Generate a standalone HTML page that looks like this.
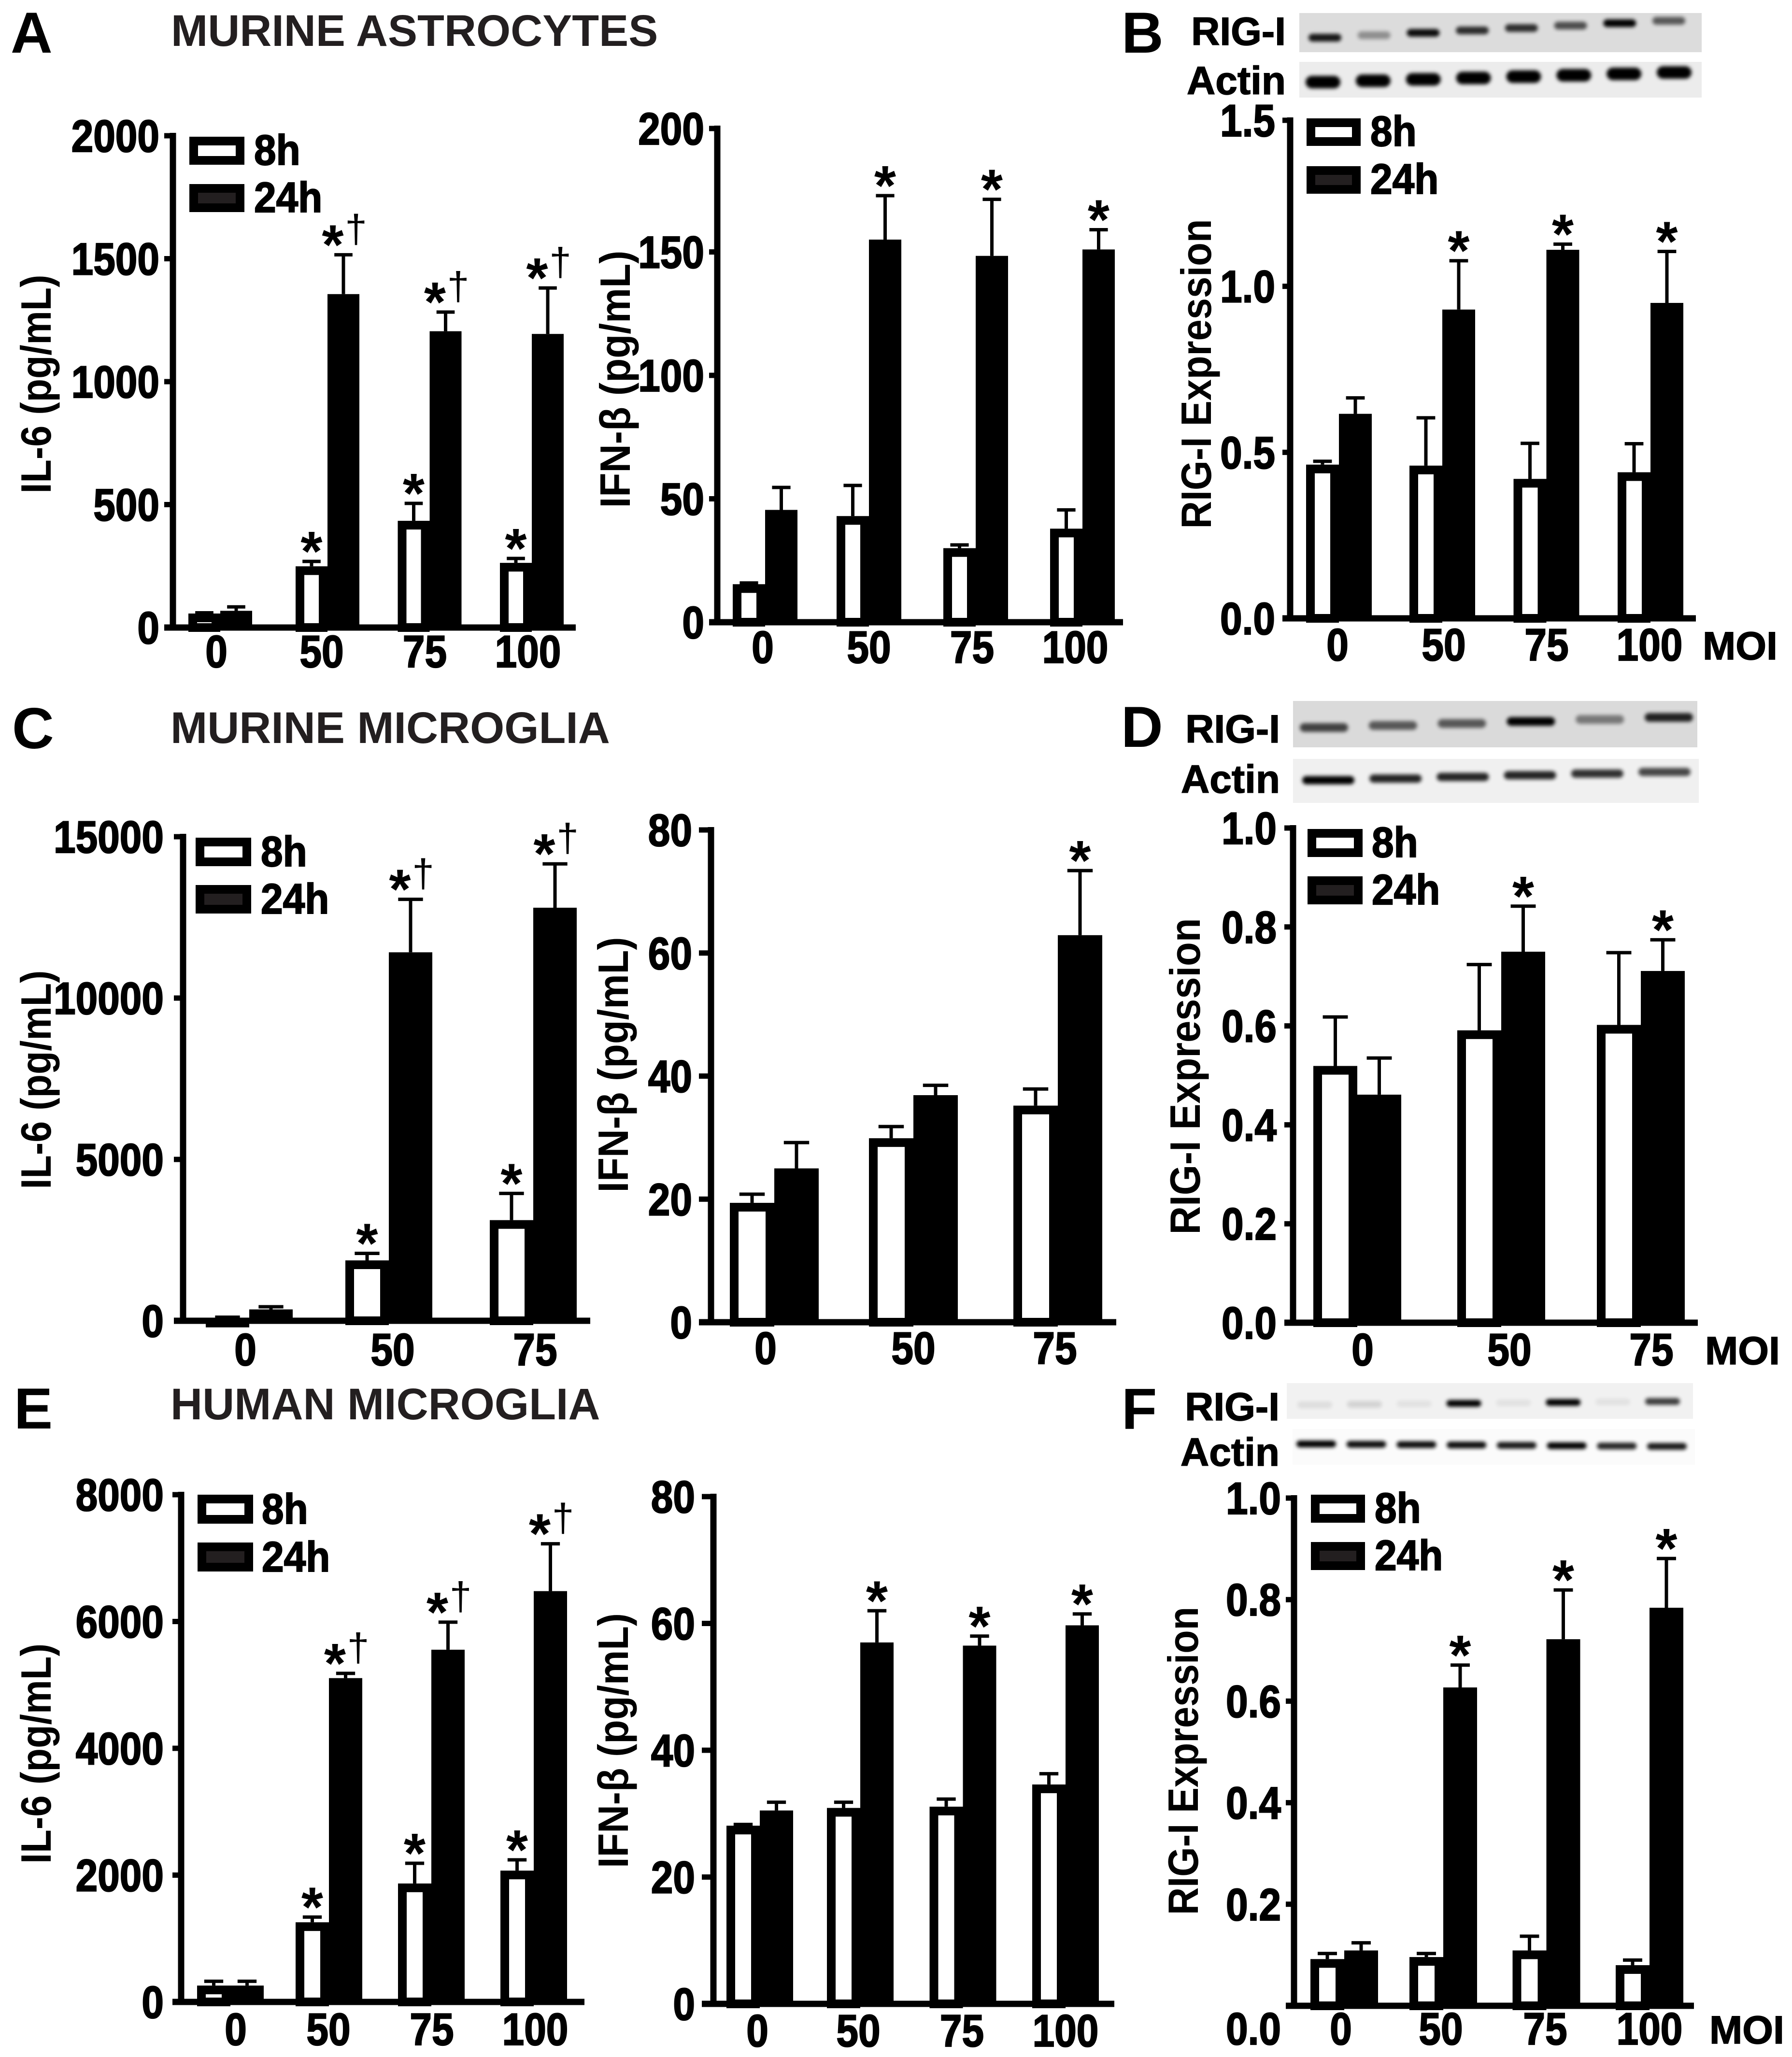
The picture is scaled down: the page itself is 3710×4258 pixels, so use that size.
<!DOCTYPE html>
<html lang="en">
<head>
<meta charset="utf-8">
<title>RIG-I and cytokine expression in glial cells</title>
<style>
html,body{margin:0;padding:0;background:#fff;}
svg{display:block;}
text{font-family:"Liberation Sans",Arial,sans-serif;font-weight:bold;fill:#000;}
.title{font-size:91.5px;fill:#231f20;}
.letter{font-size:120px;}
.blotlabel{font-size:82px;stroke:#000;stroke-width:1.5px;}
</style>
</head>
<body>
<svg id="figure" xmlns="http://www.w3.org/2000/svg" width="3710" height="4258" viewBox="0 0 3710 4258">
<defs>
<filter id="band-blur" x="-50%" y="-150%" width="200%" height="400%"><feGaussianBlur stdDeviation="4"/></filter>
</defs>
<rect x="0" y="0" width="3710" height="4258" fill="#fff"/>
<text class="letter" x="22" y="109">A</text>
<text class="title" x="354" y="95">MURINE ASTROCYTES</text>
<text class="letter" x="2322" y="109">B</text>
<text class="letter" x="25" y="1549">C</text>
<text class="title" x="353" y="1538">MURINE MICROGLIA</text>
<text class="letter" x="2321" y="1546">D</text>
<text class="letter" x="29" y="2957">E</text>
<text class="title" x="353" y="2938">HUMAN MICROGLIA</text>
<text class="letter" x="2322" y="2958">F</text>
<text class="blotlabel" x="2662" y="93" text-anchor="end">RIG-I</text>
<text class="blotlabel" x="2662" y="195" text-anchor="end">Actin</text>
<text class="blotlabel" x="2650" y="1537" text-anchor="end">RIG-I</text>
<text class="blotlabel" x="2650" y="1641" text-anchor="end">Actin</text>
<text class="blotlabel" x="2649" y="2940" text-anchor="end">RIG-I</text>
<text class="blotlabel" x="2649" y="3034" text-anchor="end">Actin</text>
<text class="blotlabel" x="3525" y="1365">MOI</text>
<text class="blotlabel" x="3530" y="2824">MOI</text>
<text class="blotlabel" x="3539" y="4230">MOI</text>
</svg>
<script>
// Category labels (MOI)
const catsFour = ['0', '50', '75', '100'];
const catsThree = ['0', '50', '75'];

// Panel A, IL-6
const ticksAIl6 = ['0', '500', '1000', '1500', '2000'];
const aIl6Early = [57, 249, 434, 263];
const aIl6EarlyTop = [60, 269, 505, 281];
const aIl6Late = [68, 1356, 1205, 1194];
const aIl6LateTop = [84, 1516, 1283, 1381];
const aIl6EarlyMarks = ['', '*', '*', '*'];
const aIl6LateMarks = ['', '*†', '*†', '*†'];

// Panel A, IFN-beta
const ticksAIfn = ['0', '50', '100', '150', '200'];
const aIfnEarly = [15.4, 43, 30, 37.9];
const aIfnEarlyTop = [15.9, 55.4, 31.3, 45.5];
const aIfnLate = [45.5, 155, 148.4, 151];
const aIfnLateTop = [54.6, 172.8, 171.3, 159];
const aIfnEarlyMarks = ['', '', '', ''];
const aIfnLateMarks = ['', '*', '*', '*'];

// Panel B, RIG-I
const ticksB = ['0.0', '0.5', '1.0', '1.5'];
const bEarly = [0.463, 0.46, 0.42, 0.44];
const bEarlyTop = [0.473, 0.604, 0.527, 0.526];
const bLate = [0.616, 0.93, 1.11, 0.95];
const bLateTop = [0.664, 1.077, 1.127, 1.105];
const bEarlyMarks = ['', '', '', ''];
const bLateMarks = ['', '*', '*', '*'];

// Panel C, IL-6
const ticksCIl6 = ['0', '5000', '10000', '15000'];
const cIl6Early = [80, 1871, 3119];
const cIl6EarlyTop = [110, 2088, 3946];
const cIl6Late = [352, 11418, 12800];
const cIl6LateTop = [434, 13060, 14158];
const cIl6EarlyMarks = ['', '*', '*'];
const cIl6LateMarks = ['', '*†', '*†'];

// Panel C, IFN-beta
const ticksCIfn = ['0', '20', '40', '60', '80'];
const cIfnEarly = [19.4, 29.9, 35.2];
const cIfnEarlyTop = [20.8, 31.8, 37.9];
const cIfnLate = [25, 36.9, 62.9];
const cIfnLateTop = [29.2, 38.5, 73.4];
const cIfnEarlyMarks = ['', '', ''];
const cIfnLateMarks = ['', '', '*'];

// Panel D, RIG-I
const ticksD = ['0.0', '0.2', '0.4', '0.6', '0.8', '1.0'];
const dEarly = [0.519, 0.591, 0.602];
const dEarlyTop = [0.618, 0.724, 0.748];
const dLate = [0.461, 0.75, 0.711];
const dLateTop = [0.535, 0.842, 0.774];
const dEarlyMarks = ['', '', ''];
const dLateMarks = ['', '*', '*'];

// Panel E, IL-6
const ticksEIl6 = ['0', '2000', '4000', '6000', '8000'];
const eIl6Early = [258, 1256, 1868, 2071];
const eIl6EarlyTop = [326, 1338, 2187, 2241];
const eIl6Late = [258, 5107, 5555, 6479];
const eIl6LateTop = [326, 5182, 5990, 7226];
const eIl6EarlyMarks = ['', '*', '*', '*'];
const eIl6LateMarks = ['', '*†', '*†', '*†'];

// Panel E, IFN-beta
const ticksEIfn = ['0', '20', '40', '60', '80'];
const eIfnEarly = [28.1, 30.9, 31.1, 34.6];
const eIfnEarlyTop = [28.3, 31.8, 32.3, 36.3];
const eIfnLate = [30.5, 57, 56.5, 59.7];
const eIfnLateTop = [31.8, 62, 58, 61.5];
const eIfnEarlyMarks = ['', '', '', ''];
const eIfnLateMarks = ['', '*', '*', '*'];

// Panel F, RIG-I
const ticksF = ['0.0', '0.2', '0.4', '0.6', '0.8', '1.0'];
const fEarly = [0.092, 0.096, 0.109, 0.08];
const fEarlyTop = [0.103, 0.103, 0.137, 0.09];
const fLate = [0.109, 0.627, 0.722, 0.784];
const fLateTop = [0.124, 0.671, 0.819, 0.881];
const fEarlyMarks = ['', '', '', ''];
const fLateMarks = ['', '*', '*', '*'];

// Western blot band densities (one per lane)
const blotBRig = [0.9, 0.35, 0.95, 0.8, 0.8, 0.65, 1, 0.6];
const blotBActin = [1, 1, 1, 1, 1, 1, 1, 1];
const blotDRig = [0.7, 0.6, 0.6, 1, 0.45, 0.85];
const blotDActin = [1, 0.85, 0.85, 0.85, 0.8, 0.7];
const blotFRig = [0.08, 0.12, 0.06, 1, 0.06, 1, 0.06, 0.75];
const blotFActin = [1, 0.95, 0.95, 0.95, 0.9, 1, 0.85, 0.9];

const SVG_NS = 'http://www.w3.org/2000/svg';
const figure = document.getElementById('figure');
const numStyle = 'font-size:82px;stroke:#000;stroke-width:2px';

function mk(parent, tag, attrs, name) {
  const el = document.createElementNS(SVG_NS, tag);
  for (const k in attrs) el.setAttribute(k, attrs[k]);
  
  
  parent.appendChild(el);
  return el;
}
function label(parent, attrs, str, name) {
  const el = mk(parent, 'text', attrs, name);
  el.textContent = str;
  return el;
}

function drawBars(g, p, values, tops, marks, offset, isEarly, seriesName) {
  const span = p.bottom - p.top;
  const maxV = parseFloat(p.ticks[p.ticks.length - 1]);
  const yOf = v => p.bottom - (v / maxV) * span;
  const centerOf = i => i === 0 ? p.c0 : p.c1 + p.step * (i - 1);
  const sw = 18;
  values.forEach((v, i) => {
    const c = centerOf(i);
    const bx = c + offset;
    const mid = bx + p.w / 2;
    const y = yOf(v);
    const capY = yOf(tops[i]);
    const capW = p.w * 0.57;
    mk(g, 'line', {x1: mid, x2: mid, y1: y, y2: capY, stroke: '#000', 'stroke-width': 7}, seriesName + '-error-stem-' + p.cats[i]);
    mk(g, 'line', {x1: mid - capW / 2, x2: mid + capW / 2, y1: capY, y2: capY, stroke: '#000', 'stroke-width': 7}, seriesName + '-error-cap-' + p.cats[i]);
    if (isEarly) {
      const h = Math.max(1, p.bottom - y - sw / 2);
      mk(g, 'rect', {x: bx + sw / 2, y: y + sw / 2, width: p.w - sw, height: h, fill: '#fff', stroke: '#000', 'stroke-width': sw}, seriesName + '-bar-' + p.cats[i]);
    } else {
      mk(g, 'rect', {x: bx, y: y, width: p.w, height: p.bottom - y, fill: '#000'}, seriesName + '-bar-' + p.cats[i]);
    }
    const mark = marks[i];
    if (mark) {
      const cy = capY - 48;
      const starStyle = 'font-size:116px';
      if (mark.length > 1) {
        label(g, {x: mid - 22, y: cy + 67, 'text-anchor': 'middle', style: starStyle}, mark[0], seriesName + '-significance-star-' + p.cats[i]);
        label(g, {x: mid + 26, y: cy + 22, 'text-anchor': 'middle', style: 'font-size:82px;font-weight:normal'}, mark[1], seriesName + '-significance-dagger-' + p.cats[i]);
      } else {
        label(g, {x: mid, y: cy + 67, 'text-anchor': 'middle', style: starStyle}, mark, seriesName + '-significance-star-' + p.cats[i]);
      }
    }
  });
  return yOf;
}

function drawPanel(p) {
  const g = mk(figure, 'g', {}, p.name);
  drawBars(g, p, p.early, p.earlyTop, p.earlyMarks, -p.w, true, 'series-8h');
  drawBars(g, p, p.late, p.lateTop, p.lateMarks, 0, false, 'series-24h');
  const maxV = parseFloat(p.ticks[p.ticks.length - 1]);
  const span = p.bottom - p.top;
  // axes
  mk(g, 'line', {x1: p.axisX, x2: p.axisX, y1: p.top - 6, y2: p.bottom + 6, stroke: '#000', 'stroke-width': 13}, 'y-axis-line');
  mk(g, 'line', {x1: p.xStart, x2: p.xEnd, y1: p.bottom, y2: p.bottom, stroke: '#000', 'stroke-width': 13}, 'x-axis-line');
  // y ticks
  p.ticks.forEach(t => {
    const y = p.bottom - (parseFloat(t) / maxV) * span;
    mk(g, 'line', {x1: p.xStart, x2: p.axisX, y1: y, y2: y, stroke: '#000', 'stroke-width': 11}, 'y-tick-' + t);
    const isZero = parseFloat(t) === 0;
    const ty = isZero && p.zeroLabelY ? p.zeroLabelY : y + 33;
    label(g, {transform: 'translate(' + p.tickRight + ' ' + ty + ') scale(1 1.14)', 'text-anchor': 'end', style: numStyle}, t, 'y-tick-label-' + t);
  });
  // x labels
  p.cats.forEach((c, i) => {
    const lx = i === 0 ? p.l0 : p.l1 + p.lStep * (i - 1);
    label(g, {transform: 'translate(' + lx + ' ' + (p.labelY + 4) + ') scale(1 1.14)', 'text-anchor': 'middle', style: numStyle}, c, 'x-tick-label-' + c);
  });
  // y title
  label(g, {
    x: 0, y: 0, 'text-anchor': 'middle',
    transform: 'translate(' + p.titleX + ' ' + p.titleY + ') rotate(-90)',
    textLength: p.titleLen, lengthAdjust: 'spacingAndGlyphs',
    style: 'font-size:88px'
  }, p.yTitle, 'y-axis-title');
  // legend
  if (p.legend) {
    const L = p.legend;
    const sw = 18;
    const lg = mk(g, 'g', {}, 'legend');
    mk(lg, 'rect', {x: L.x + sw / 2, y: L.y1 + sw / 2, width: L.w - sw, height: L.h - sw, fill: '#fff', stroke: '#000', 'stroke-width': sw}, 'legend-swatch-8h');
    label(lg, {transform: 'translate(' + L.tx + ' ' + (L.y1 + L.h) + ') scale(1 1.08)', style: numStyle}, '8h', 'legend-label-8h');
    mk(lg, 'rect', {x: L.x + sw / 2, y: L.y2 + sw / 2, width: L.w - sw, height: L.h - sw, fill: '#231f20', stroke: '#000', 'stroke-width': sw}, 'legend-swatch-24h');
    label(lg, {transform: 'translate(' + L.tx + ' ' + (L.y2 + L.h) + ') scale(1 1.08)', style: numStyle}, '24h', 'legend-label-24h');
  }
}

function drawBlot(b) {
  const g = mk(figure, 'g', {}, b.name);
  mk(g, 'rect', {x: b.x, y: b.y, width: b.w, height: b.h, fill: b.bg}, 'blot-background');
  const n = b.density.length;
  b.density.forEach((d, i) => {
    const t = i / (n - 1);
    const cx = b.lane0 + (b.laneN - b.lane0) * t;
    const cy = b.yStart + (b.yEnd - b.yStart) * t;
    mk(g, 'rect', {
      x: cx - b.bandW / 2, y: cy - b.bandH / 2, width: b.bandW, height: b.bandH,
      rx: b.bandH / 2, fill: '#000', opacity: d, filter: 'url(#band-blur)'
    }, 'blot-band-lane-' + (i + 1));
  });
}

const blots = [
  {name: 'blot-b-rig-i', x: 2690, y: 27, w: 833, h: 81, bg: '#dcdcdc', lane0: 2743, laneN: 3455, yStart: 78, yEnd: 43, bandW: 68, bandH: 16, density: blotBRig},
  {name: 'blot-b-actin', x: 2690, y: 128, w: 833, h: 74, bg: '#ececec', lane0: 2739, laneN: 3466, yStart: 170, yEnd: 150, bandW: 72, bandH: 26, density: blotBActin},
  {name: 'blot-d-rig-i', x: 2677, y: 1451, w: 837, h: 96, bg: '#dadada', lane0: 2741, laneN: 3455, yStart: 1506, yEnd: 1485, bandW: 100, bandH: 18, density: blotDRig},
  {name: 'blot-d-actin', x: 2677, y: 1571, w: 840, h: 91, bg: '#f0f0f0', lane0: 2750, laneN: 3446, yStart: 1615, yEnd: 1598, bandW: 108, bandH: 17, density: blotDActin},
  {name: 'blot-f-rig-i', x: 2664, y: 2863, w: 841, h: 74, bg: '#f1f1f1', lane0: 2722, laneN: 3442, yStart: 2908, yEnd: 2901, bandW: 72, bandH: 14, density: blotFRig},
  {name: 'blot-f-actin', x: 2676, y: 2958, w: 833, h: 74, bg: '#fbfbfb', lane0: 2725, laneN: 3451, yStart: 2989, yEnd: 2994, bandW: 82, bandH: 14, density: blotFActin}
];
blots.forEach(drawBlot);

const panels = [
  {name: 'chart-a-il6', cats: catsFour, ticks: ticksAIl6, early: aIl6Early, earlyTop: aIl6EarlyTop, late: aIl6Late, lateTop: aIl6LateTop, earlyMarks: aIl6EarlyMarks, lateMarks: aIl6LateMarks,
   axisX: 358, top: 281, bottom: 1299, xStart: 340, xEnd: 1192, c0: 456, c1: 678, step: 211.5, w: 66, tickRight: 330, l0: 448, l1: 666, lStep: 213.5, labelY: 1377,
   yTitle: 'IL-6 (pg/mL)', titleX: 105, titleY: 795, titleLen: 453, legend: {x: 392, y1: 283, y2: 381, w: 114, h: 58, tx: 526}},
  {name: 'chart-a-ifn', cats: catsFour, ticks: ticksAIfn, early: aIfnEarly, earlyTop: aIfnEarlyTop, late: aIfnLate, lateTop: aIfnLateTop, earlyMarks: aIfnEarlyMarks, lateMarks: aIfnLateMarks,
   axisX: 1485, top: 266, bottom: 1288, xStart: 1468, xEnd: 2325, c0: 1584, c1: 1799, step: 221, w: 67, tickRight: 1458, l0: 1579, l1: 1799, lStep: 213.5, labelY: 1368,
   yTitle: 'IFN-β (pg/mL)', titleX: 1304, titleY: 785, titleLen: 533},
  {name: 'chart-b-rig-i', cats: catsFour, ticks: ticksB, early: bEarly, earlyTop: bEarlyTop, late: bLate, lateTop: bLateTop, earlyMarks: bEarlyMarks, lateMarks: bLateMarks,
   axisX: 2671, top: 249, bottom: 1280, xStart: 2655, xEnd: 3511, c0: 2772, c1: 2986, step: 215.5, w: 68, tickRight: 2640, l0: 2769, l1: 2989, lStep: 213, labelY: 1363,
   yTitle: 'RIG-I Expression', titleX: 2507, titleY: 774, titleLen: 641, legend: {x: 2705, y1: 245, y2: 344, w: 112, h: 57, tx: 2837}},
  {name: 'chart-c-il6', cats: catsThree, ticks: ticksCIl6, early: cIl6Early, earlyTop: cIl6EarlyTop, late: cIl6Late, lateTop: cIl6LateTop, earlyMarks: cIl6EarlyMarks, lateMarks: cIl6LateMarks,
   axisX: 379, top: 1732, bottom: 2734, xStart: 360, xEnd: 1222, c0: 516, c1: 805, step: 299, w: 90, tickRight: 339, l0: 508, l1: 813, lStep: 295, labelY: 2822,
   yTitle: 'IL-6 (pg/mL)', titleX: 105, titleY: 2235, titleLen: 453, legend: {x: 405, y1: 1734, y2: 1832, w: 115, h: 59, tx: 540}},
  {name: 'chart-c-ifn', cats: catsThree, ticks: ticksCIfn, early: cIfnEarly, earlyTop: cIfnEarlyTop, late: cIfnLate, lateTop: cIfnLateTop, earlyMarks: cIfnEarlyMarks, lateMarks: cIfnLateMarks,
   axisX: 1472, top: 1718, bottom: 2737, xStart: 1447, xEnd: 2311, c0: 1603, c1: 1891, step: 299, w: 92, tickRight: 1433, l0: 1585, l1: 1891, lStep: 293, labelY: 2819,
   yTitle: 'IFN-β (pg/mL)', titleX: 1300, titleY: 2204, titleLen: 529},
  {name: 'chart-d-rig-i', cats: catsThree, ticks: ticksD, early: dEarly, earlyTop: dEarlyTop, late: dLate, lateTop: dLateTop, earlyMarks: dEarlyMarks, lateMarks: dLateMarks,
   axisX: 2677, top: 1714, bottom: 2738, xStart: 2659, xEnd: 3515, c0: 2810, c1: 3108, step: 289, w: 91, tickRight: 2643, l0: 2821, l1: 3125, lStep: 294, labelY: 2822,
   yTitle: 'RIG-I Expression', titleX: 2484, titleY: 2228, titleLen: 655, legend: {x: 2707, y1: 1716, y2: 1814, w: 114, h: 58, tx: 2840}},
  {name: 'chart-e-il6', cats: catsFour, ticks: ticksEIl6, early: eIl6Early, earlyTop: eIl6EarlyTop, late: eIl6Late, lateTop: eIl6LateTop, earlyMarks: eIl6EarlyMarks, lateMarks: eIl6LateMarks,
   axisX: 375, top: 3094, bottom: 4144, xStart: 357, xEnd: 1210, c0: 477, c1: 681, step: 212, w: 69, tickRight: 339, l0: 488, l1: 680, lStep: 214, labelY: 4229,
   yTitle: 'IL-6 (pg/mL)', titleX: 105, titleY: 3630, titleLen: 456, legend: {x: 409, y1: 3094, y2: 3193, w: 115, h: 60, tx: 542}},
  {name: 'chart-e-ifn', cats: catsFour, ticks: ticksEIfn, early: eIfnEarly, earlyTop: eIfnEarlyTop, late: eIfnLate, lateTop: eIfnLateTop, earlyMarks: eIfnEarlyMarks, lateMarks: eIfnLateMarks,
   axisX: 1477, top: 3098, bottom: 4148, xStart: 1453, xEnd: 2307, c0: 1573, c1: 1781, step: 212.5, w: 69, tickRight: 1439, l0: 1568, l1: 1777, lStep: 214.5, labelY: 4232,
   yTitle: 'IFN-β (pg/mL)', titleX: 1300, titleY: 3603, titleLen: 528},
  {name: 'chart-f-rig-i', cats: catsFour, ticks: ticksF, early: fEarly, earlyTop: fEarlyTop, late: fLate, lateTop: fLateTop, earlyMarks: fEarlyMarks, lateMarks: fLateMarks,
   axisX: 2679, top: 3101, bottom: 4152, xStart: 2662, xEnd: 3507, c0: 2783, c1: 2988, step: 213.5, w: 70, tickRight: 2652, l0: 2776, l1: 2983, lStep: 216, labelY: 4228, zeroLabelY: 4232,
   yTitle: 'RIG-I Expression', titleX: 2480, titleY: 3645, titleLen: 638, legend: {x: 2714, y1: 3094, y2: 3192, w: 112, h: 58, tx: 2846}}
];
panels.forEach(drawPanel);
</script>
</body>
</html>
